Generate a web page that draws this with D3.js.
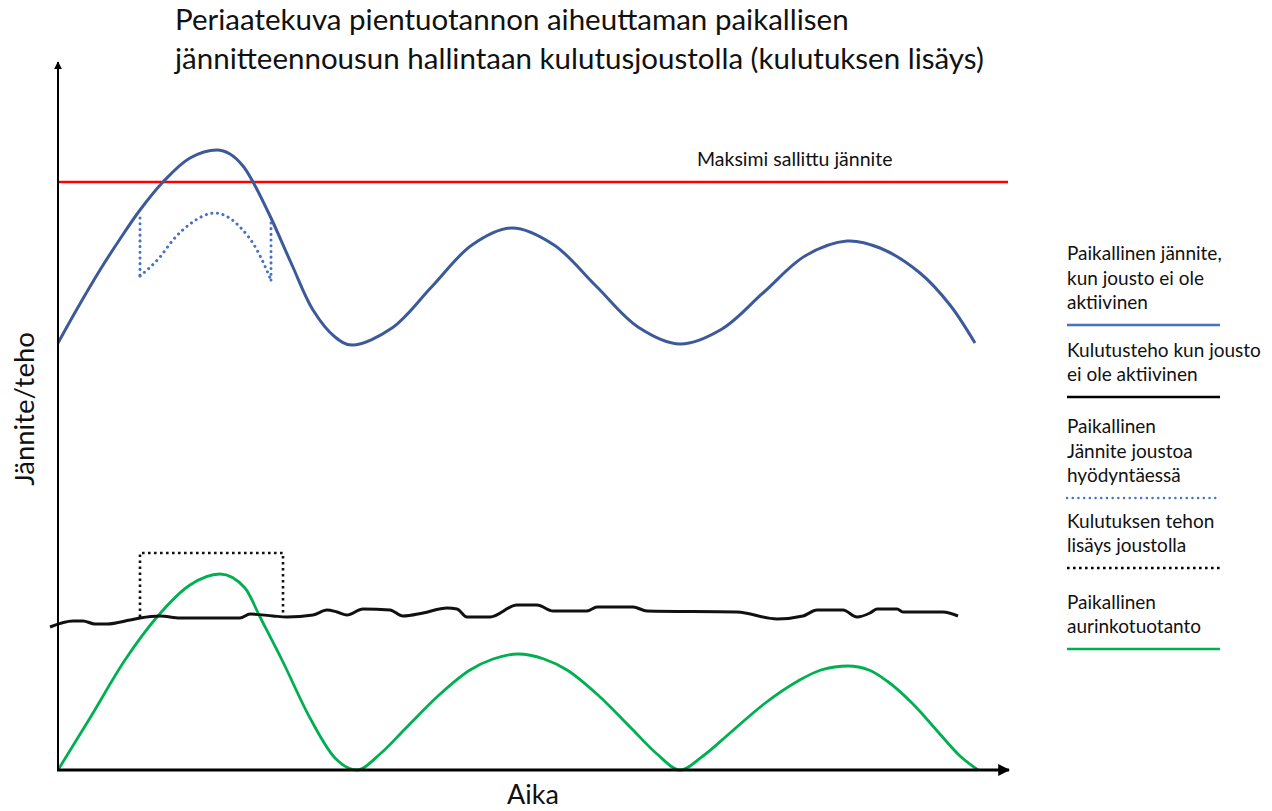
<!DOCTYPE html>
<html>
<head>
<meta charset="utf-8">
<script src="https://cdn.jsdelivr.net/npm/d3@7"></script>
<style>
  body { margin: 0; background: #fff; }
  svg text { font-family: Lato, "Noto Sans", sans-serif; fill: #111; }
</style>
</head>
<body>
<div id="chart"></div>
<script>
// time in arbitrary units (0..950), value in arbitrary units (0..700)
const voltT = [0, 19, 42, 62, 82, 105, 132, 159, 172, 185, 195, 213, 234, 255, 277, 294, 334, 374, 414, 454, 496, 538, 580, 622, 664, 705.5, 747, 789, 822, 862, 892, 917]
const voltV = [427, 461, 500, 531, 560, 588, 612, 620, 616, 604, 588, 552, 505, 460, 433, 425, 442, 483.5, 525, 542, 525, 484, 443, 426, 441, 477.5, 514, 529, 522, 497, 465, 427]

const flexT = [82, 102, 115, 132, 157, 182, 199, 213]
const flexV = [494, 513, 530, 546, 557, 543, 520, 490]
const flexTop = [552, 552] // where the dotted curve leaves the solid one (left, right)

const loadT = [-8, 15, 25, 37, 49, 72, 82, 102, 122, 182, 192, 215, 229, 255, 269, 279, 289, 305, 332, 345, 365, 389, 399, 409, 432, 459, 479, 495, 529, 539, 575, 589, 679, 719, 745, 759, 785, 799, 812, 819, 839, 845, 885, 900]
const loadV = [143, 149, 149, 146, 146, 150, 152, 154, 152, 152, 156, 154, 153, 155, 160, 158, 155, 161, 160, 154, 157, 162, 161, 153, 153, 165, 165, 159, 159, 163, 163, 159, 158, 151, 154, 160, 160, 153, 157, 161, 161, 158, 158, 154]

const boostT = [82, 82, 225, 225]
const boostV = [153, 217, 217, 154]

const solarT = [0, 32, 67, 99, 132, 162, 187, 202, 224, 252, 277, 299, 322, 347, 380, 412, 435, 460, 486, 509, 541, 574, 599, 622, 645, 672, 706, 740, 763, 790, 811, 829, 855, 881, 902, 920]
const solarV = [0, 52, 110, 153, 185, 196, 182, 153, 110, 52, 12, 0, 16, 41, 74, 100, 111, 116, 111, 100, 74, 41, 16, 0, 14, 37, 66, 89, 100, 104, 100, 89, 66, 37, 14, 0]

const maxVoltage = 588
const maxLabel = 'Maksimi sallittu jännite'

const titleLines = ['Periaatekuva pientuotannon aiheuttaman paikallisen', 'jännitteennousun hallintaan kulutusjoustolla (kulutuksen lisäys)']
const xLabel = 'Aika'
const yLabel = 'Jännite/teho'

const legendItems = [
    { lines: ['Paikallinen jännite,', 'kun jousto ei ole', 'aktiivinen'], color: '#4472C4', dash: null },
    { lines: ['Kulutusteho kun jousto', 'ei ole aktiivinen'], color: '#000', dash: null },
    { lines: ['Paikallinen', 'Jännite joustoa', 'hyödyntäessä'], color: '#4472C4', dash: 'dotblue' },
    { lines: ['Kulutuksen tehon', 'lisäys joustolla'], color: '#000', dash: 'dotblack' },
    { lines: ['Paikallinen', 'aurinkotuotanto'], color: '#00B050', dash: null },
]
const legendLineY = [325, 397, 498, 568, 649]

const width = 1272
const height = 811
const margin = { top: 70, right: 264, bottom: 41, left: 58 }

const svg = d3.select('#chart').append('svg')
    .attr('width', width)
    .attr('height', height)

const x = d3.scaleLinear().domain([0, 950]).range([margin.left, width - margin.right])
const y = d3.scaleLinear().domain([0, 700]).range([height - margin.bottom, margin.top])

const zip = (ts, vs) => ts.map((t, i) => [t, vs[i]])
const smooth = d3.line().x(d => x(d[0])).y(d => y(d[1])).curve(d3.curveMonotoneX)
const wave = d3.line().x(d => x(d[0])).y(d => y(d[1])).curve(d3.curveCatmullRom.alpha(0.5))
const straight = d3.line().x(d => x(d[0])).y(d => y(d[1]))

const dotStyles = {
    dotblue: { dash: '0.1 5.6', width: 3, cap: 'round' },
    dotblack: { dash: '2.6 3.4', width: 2.6, cap: 'butt' },
}

// arrow heads
const defs = svg.append('defs')
defs.append('marker')
    .attr('id', 'arrow')
    .attr('viewBox', '0 0 10 10')
    .attr('refX', 9).attr('refY', 5)
    .attr('markerWidth', 4).attr('markerHeight', 4)
    .attr('markerUnits', 'strokeWidth')
    .attr('orient', 'auto')
    .append('path')
    .attr('d', 'M0,0 L10,5 L0,10 z')
    .attr('fill', '#000')

// max voltage
svg.append('line')
    .attr('x1', x(0)).attr('x2', x(950))
    .attr('y1', y(maxVoltage)).attr('y2', y(maxVoltage))
    .attr('stroke', '#FF0000').attr('stroke-width', 2.5)

svg.append('text')
    .attr('x', x(639)).attr('y', y(maxVoltage) - 16)
    .attr('font-size', 19.5)
    .text(maxLabel)

// solar
svg.append('path')
    .attr('d', smooth(zip(solarT, solarV)))
    .attr('fill', 'none').attr('stroke', '#00B050').attr('stroke-width', 2.8)

// consumption
svg.append('path')
    .attr('d', smooth(zip(loadT, loadV)))
    .attr('fill', 'none').attr('stroke', '#111').attr('stroke-width', 3)

// consumption boost (dotted box)
svg.append('path')
    .attr('d', straight(zip(boostT, boostV)))
    .attr('fill', 'none').attr('stroke', '#111')
    .attr('stroke-width', dotStyles.dotblack.width)
    .attr('stroke-dasharray', dotStyles.dotblack.dash)

// voltage without flexibility
svg.append('path')
    .attr('d', wave(zip(voltT, voltV)))
    .attr('fill', 'none').attr('stroke', '#3C5A9A').attr('stroke-width', 3)

// voltage with flexibility
const flexG = svg.append('g')
    .attr('fill', 'none').attr('stroke', '#4472C4')
    .attr('stroke-width', dotStyles.dotblue.width)
    .attr('stroke-dasharray', dotStyles.dotblue.dash)
    .attr('stroke-linecap', 'round')
flexG.append('path').attr('d', straight([[flexT[0], flexTop[0]], [flexT[0], flexV[0]]]))
flexG.append('path').attr('d', smooth(zip(flexT, flexV)))
flexG.append('path').attr('d', straight([[flexT[flexT.length - 1], flexV[flexV.length - 1]], [flexT[flexT.length - 1], flexTop[1]]]))

// axes with arrows
svg.append('line')
    .attr('x1', x(0)).attr('y1', y(0))
    .attr('x2', x(0)).attr('y2', 62)
    .attr('stroke', '#000').attr('stroke-width', 2)
    .attr('marker-end', 'url(#arrow)')
svg.append('line')
    .attr('x1', x(0) - 1).attr('y1', y(0))
    .attr('x2', x(950) + 1).attr('y2', y(0))
    .attr('stroke', '#000').attr('stroke-width', 3)
    .attr('marker-end', 'url(#arrow)')

// axis titles
svg.append('text')
    .attr('x', 533).attr('y', 804)
    .attr('text-anchor', 'middle')
    .attr('font-size', 27)
    .text(xLabel)

svg.append('text')
    .attr('transform', `translate(34, 409) rotate(-90)`)
    .attr('text-anchor', 'middle')
    .attr('font-size', 27.5)
    .text(yLabel)

// title
svg.append('g').selectAll('text')
    .data(titleLines)
    .join('text')
    .attr('x', 175)
    .attr('y', (d, i) => 30 + i * 39)
    .attr('font-size', 29.5)
    .text(d => d)

// legend
const legendX = 1067
const legendG = svg.append('g')
legendItems.forEach((item, k) => {
    const ly = legendLineY[k]
    const n = item.lines.length
    legendG.append('g').selectAll('text')
        .data(item.lines)
        .join('text')
        .attr('x', legendX)
        .attr('y', (d, i) => ly - 16 - (n - 1 - i) * 24.3)
        .attr('font-size', 19)
        .text(d => d)
    const ln = legendG.append('line')
        .attr('x1', legendX).attr('x2', legendX + 153)
        .attr('y1', ly).attr('y2', ly)
        .attr('stroke', item.color)
        .attr('stroke-width', 2.6)
    if (item.dash) {
        ln.attr('stroke-dasharray', dotStyles[item.dash].dash)
            .attr('stroke-linecap', dotStyles[item.dash].cap)
            .attr('stroke-width', 2.4)
    }
})
</script>
</body>
</html>
